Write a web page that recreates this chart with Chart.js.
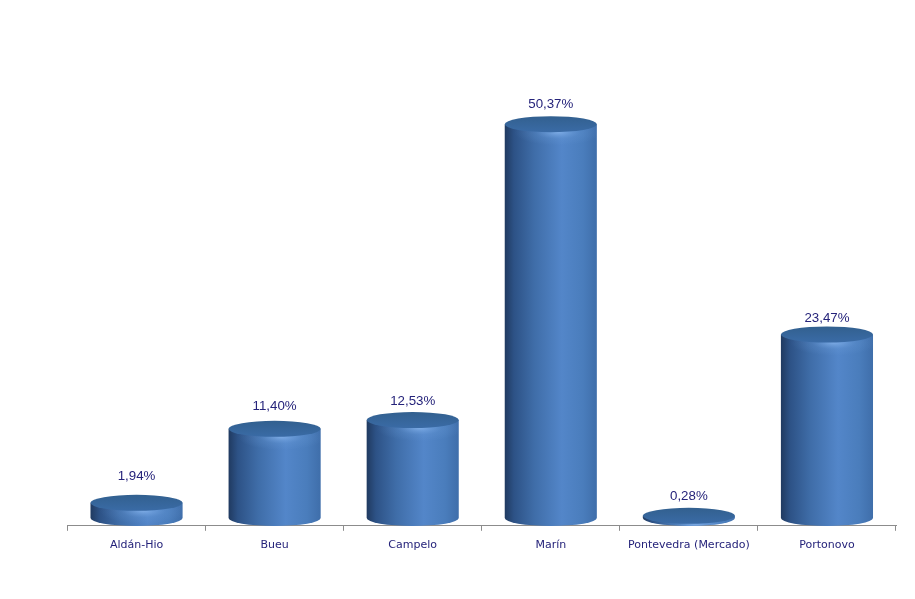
<!DOCTYPE html>
<html><head><meta charset="utf-8">
<style>html,body{margin:0;padding:0;background:#fff}canvas{display:block}</style>
<script src="https://cdn.jsdelivr.net/npm/chart.js@4/dist/chart.umd.min.js"></script>
</head><body>
<canvas id="c" width="915" height="599"></canvas>
<script>
const categories = ["Aldán-Hio","Bueu","Campelo","Marín","Pontevedra (Mercado)","Portonovo"];
const shares = [1.94,11.40,12.53,50.37,0.28,23.47];
const valueLabels = ["1,94%","11,40%","12,53%","50,37%","0,28%","23,47%"];
const labelLift = [27,24,20,21,20,17];
const INK = "#25237a";
const RY = 8;

function sideGradient(ctx, left, right){
  const g = ctx.createLinearGradient(left,0,right,0);
  g.addColorStop(0,"#203a60");
  g.addColorStop(0.1,"#2d5286");
  g.addColorStop(0.32,"#3f6da8");
  g.addColorStop(0.62,"#5386c9");
  g.addColorStop(0.85,"#4a7dbc");
  g.addColorStop(1,"#3f6eaa");
  return g;
}
const cylinder = {
  id:"cylinder",
  afterDatasetsDraw(chart){
    const ctx = chart.ctx;
    chart.getDatasetMeta(0).data.forEach((bar,i)=>{
      const half = bar.width/2, x = bar.x, top = bar.y, base = bar.base;
      ctx.save();
      ctx.beginPath();
      ctx.moveTo(x-half,top);
      ctx.lineTo(x-half,base);
      ctx.ellipse(x,base,half,RY,0,Math.PI,0,true);
      ctx.lineTo(x+half,top);
      ctx.closePath();
      ctx.fillStyle = sideGradient(ctx,x-half,x+half);
      ctx.fill();
      // soft glow under the cap
      ctx.save();
      ctx.clip();
      ctx.translate(x+half*0.15,top+RY);
      ctx.scale(1,0.3);
      const glow = ctx.createRadialGradient(0,0,1,0,0,half*0.95);
      glow.addColorStop(0,"rgba(140,185,240,0.7)");
      glow.addColorStop(0.5,"rgba(110,160,220,0.22)");
      glow.addColorStop(1,"rgba(110,160,220,0)");
      ctx.fillStyle = glow;
      ctx.fillRect(-half*2,-half,half*4,half*2);
      ctx.restore();
      // cap
      ctx.beginPath();
      ctx.ellipse(x,top,half,RY,0,0,Math.PI*2);
      const capFill = ctx.createLinearGradient(0,top-RY,0,top+RY);
      capFill.addColorStop(0,"#32608f");
      capFill.addColorStop(1,"#3a6ba6");
      ctx.fillStyle = capFill;
      ctx.fill();
      ctx.restore();
      ctx.font = "13.3px 'Liberation Sans'";
      ctx.fillStyle = INK;
      ctx.textAlign = "center";
      ctx.textBaseline = "middle";
      ctx.fillText(valueLabels[i],x,top-labelLift[i]+1);
    });
  }
};
new Chart(document.getElementById("c"),{
  type:"bar",
  data:{labels:categories,datasets:[{data:shares,backgroundColor:"rgba(0,0,0,0)",borderWidth:0,barPercentage:1,categoryPercentage:0.667}]},
  options:{
    responsive:false,animation:false,
    layout:{padding:{left:67.5,right:19,top:0,bottom:39}},
    plugins:{legend:{display:false},tooltip:{enabled:false}},
    scales:{
      y:{display:false,min:-1.0,max:66.26,grid:{display:false}},
      x:{
        border:{display:true,color:"#8c8c8c",width:1},
        grid:{display:true,drawOnChartArea:false,drawTicks:true,tickLength:5,color:"#8c8c8c"},
        ticks:{color:INK,font:{family:"'DejaVu Sans'",size:11},maxRotation:0,autoSkip:false,padding:8}
      }
    }
  },
  plugins:[cylinder]
});
</script>
</body></html>
